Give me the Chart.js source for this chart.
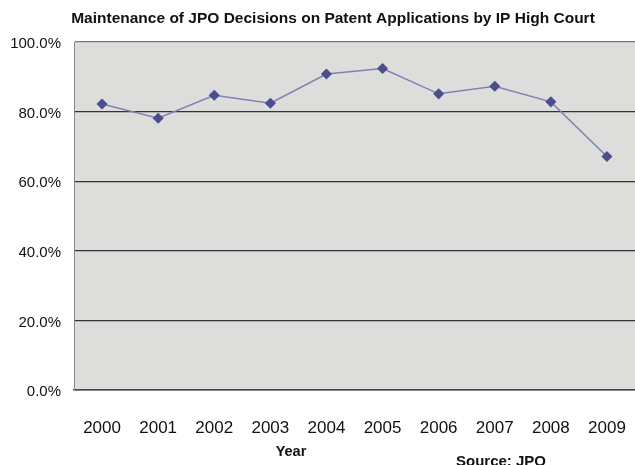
<!DOCTYPE html>
<html>
<head>
<meta charset="utf-8">
<script src="https://cdn.jsdelivr.net/npm/chart.js@4"></script>
<style>
  html, body { margin: 0; padding: 0; background: #fff; overflow: hidden; }
  #wrap { width: 635px; height: 465px; position: relative; }
  canvas { display: block; }
</style>
</head>
<body>
<div id="wrap"><canvas id="lineChart" width="635" height="465"></canvas></div>
<script>
'use strict';

const years = ['2000', '2001', '2002', '2003', '2004', '2005', '2006', '2007', '2008', '2009'];
const maintained = [82.2, 78.1, 84.7, 82.4, 90.8, 92.4, 85.1, 87.3, 82.8, 67.1];
const yTicks = [0, 20, 40, 60, 80, 100];

const sans = '"Liberation Sans", Arial, sans-serif';

// grey plot background + loose texts
const extras = {
    id: 'extras',
    beforeDraw(chart) {
        const { ctx, chartArea: a } = chart;
        ctx.save();
        ctx.fillStyle = '#dddddb';
        ctx.fillRect(a.left, a.top, a.right - a.left, a.bottom - a.top);
        ctx.restore();
    },
    afterDraw(chart) {
        const ctx = chart.ctx;
        ctx.save();
        ctx.fillStyle = '#111';
        ctx.textBaseline = 'middle';
        ctx.textAlign = 'center';
        ctx.font = 'bold 15.5px ' + sans;
        ctx.fillText('Maintenance of JPO Decisions on Patent Applications by IP High Court', 333, 19);
        ctx.font = 'bold 14.5px ' + sans;
        ctx.fillText('Year', 291, 452);
        ctx.font = 'bold 15px ' + sans;
        ctx.fillText('Source: JPO', 501, 462);
        ctx.restore();
    }
};

const ctx = document.getElementById('lineChart').getContext('2d');
const chart = new Chart(ctx, {
    type: 'line',
    data: {
    labels: years,
    datasets: [{
        data: maintained,
        borderColor: '#8080b4',
        borderWidth: 1.5,
        pointStyle: 'rectRot',
        pointRadius: 4.5,
        pointBackgroundColor: '#4a4f8c',
        pointBorderColor: '#4a4f8c',
        tension: 0
    }]
    },
    options: {
    responsive: false,
    animation: false,
    layout: { autoPadding: false, padding: { top: 42, right: 0, left: 0, bottom: 0 } },
    plugins: {
        legend: { display: false },
        tooltip: { enabled: false }
    },
    scales: {
        x: {
        offset: true,
        grid: { display: false },
        border: { display: true, color: '#444', width: 1.5 },
        ticks: {
            padding: 20,
            color: '#111',
            font: { family: sans, size: 17 }
        },
        afterFit(scale) {
            scale.height = 75;
            scale.paddingLeft = 0;
            scale.paddingRight = 0;
        }
        },
        y: {
        min: 0,
        max: 100,
        afterBuildTicks(scale) { scale.ticks = yTicks.map(v => ({ value: v })); },
        grid: {
            color: ctx => ctx.tick.value === 100 ? '#777' : '#333',
            lineWidth: 1.2,
            drawTicks: false
        },
        border: { display: true, color: '#888', width: 1 },
        ticks: {
            padding: 13,
            labelOffset: 2,
            color: '#111',
            font: { family: sans, size: 15 },
            callback: v => v.toFixed(1) + '%'
        },
        afterFit(scale) { scale.width = 74; }
        }
    }
    },
    plugins: [extras]
});
</script>
</body>
</html>
